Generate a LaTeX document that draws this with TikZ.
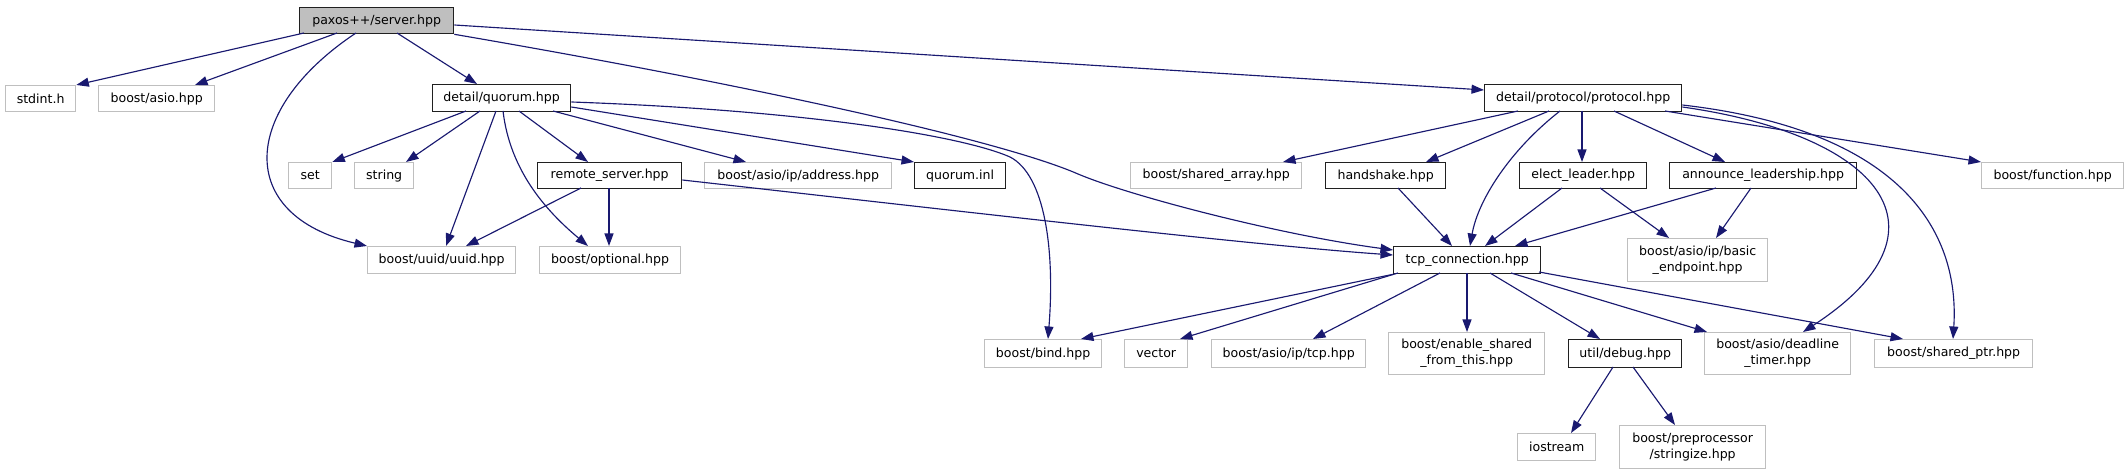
\documentclass[tikz,border=0pt]{standalone}
\usepackage{fontspec}
\newfontfamily\dvs{DejaVu Sans}
\usetikzlibrary{arrows.meta}
\definecolor{edgeblue}{HTML}{191970}
\definecolor{lgray}{HTML}{BFBFBF}
\definecolor{dborder}{HTML}{202020}
\newcommand{\gnode}[7]{\node[#6,minimum width={(#4-#2)*0.02cm},minimum height={(#5-#3)*0.02cm}] (#1) at (#2,#3) {#7};}
\begin{document}
\begin{tikzpicture}[x=0.02cm,y=-0.02cm,
 nbox/.style={draw=dborder, line width=0.75pt, fill=white, inner sep=0pt, anchor=north west, align=center, font=\dvs\fontsize{7.15}{9.1}\selectfont},
 extbox/.style={nbox, draw=lgray},
 curbox/.style={nbox, fill=lgray},
 edge/.style={draw=edgeblue, line width=0.65pt, -{Triangle[length=0.25cm,width=0.18cm]}}]
\useasboundingbox (0,0) rectangle (2128,475);
% rank 0
\gnode{paxos}{299}{7}{453}{33}{curbox}{paxos++/server.hpp}
% rank 1
\gnode{stdint}{5}{85}{75}{111}{extbox}{stdint.h}
\gnode{asio}{98}{85}{214}{111}{extbox}{boost/asio.hpp}
\gnode{quorum}{432}{84}{570}{111}{nbox}{detail/quorum.hpp}
\gnode{proto}{1484}{84}{1681}{111}{nbox}{detail/protocol/protocol.hpp}
% rank 2
\gnode{set}{288}{162}{331}{188}{extbox}{set}
\gnode{str}{354}{162}{413}{188}{extbox}{string}
\gnode{rsrv}{537}{162}{681}{188}{nbox}{remote\_server.hpp}
\gnode{addr}{704}{162}{891}{188}{extbox}{boost/asio/ip/address.hpp}
\gnode{qinl}{914}{162}{1005}{188}{nbox}{quorum.inl}
\gnode{sarr}{1130}{162}{1301}{188}{extbox}{boost/shared\_array.hpp}
\gnode{hshk}{1325}{162}{1445}{188}{nbox}{handshake.hpp}
\gnode{elect}{1519}{162}{1646}{188}{nbox}{elect\_leader.hpp}
\gnode{annc}{1669}{162}{1856}{188}{nbox}{announce\_leadership.hpp}
\gnode{func}{1981}{162}{2123}{188}{extbox}{boost/function.hpp}
% rank 3
\gnode{uuid}{367}{246}{515}{273}{extbox}{boost/uuid/uuid.hpp}
\gnode{opt}{539}{246}{680}{273}{extbox}{boost/optional.hpp}
\gnode{tcpc}{1393}{246}{1540}{273}{nbox}{tcp\_connection.hpp}
\gnode{bend}{1627}{238}{1767}{281}{extbox}{boost/asio/ip/basic\\\_endpoint.hpp}
% rank 4
\gnode{bind}{984}{339}{1101}{367}{extbox}{boost/bind.hpp}
\gnode{vect}{1124}{339}{1187}{367}{extbox}{vector}
\gnode{tcph}{1211}{339}{1365}{367}{extbox}{boost/asio/ip/tcp.hpp}
\gnode{esft}{1388}{332}{1544}{374}{extbox}{boost/enable\_shared\\\_from\_this.hpp}
\gnode{dbg}{1568}{339}{1681}{367}{nbox}{util/debug.hpp}
\gnode{dlt}{1704}{332}{1850}{374}{extbox}{boost/asio/deadline\\\_timer.hpp}
\gnode{sptr}{1874}{339}{2032}{367}{extbox}{boost/shared\_ptr.hpp}
% rank 5
\gnode{ios}{1517}{433}{1595}{460}{extbox}{iostream}
\gnode{strz}{1619}{425}{1765}{468}{extbox}{boost/preprocessor\\/stringize.hpp}
% edges from paxos
\draw[edge] ([shift={(5,26)}]paxos.north west) -- (stdint.north east);
\draw[edge] ([shift={(38,26)}]paxos.north west) -- ([shift={(97,0)}]asio.north west);
\draw[edge] ([shift={(57,26)}]paxos.north west) .. controls (240,110) and (235,215) .. (uuid.north west);
\draw[edge] ([shift={(98,26)}]paxos.north west) -- ([shift={(45,0)}]quorum.north west);
\draw[edge] (paxos.south east) .. controls (750,85) and (1000,140) .. (1078,174) .. controls (1130,196) and (1280,235) .. ([shift={(0,4)}]tcpc.north west);
\draw[edge] ([shift={(0,18)}]paxos.north east) -- ([shift={(0,6)}]proto.north west);
% edges from quorum
\draw[edge] ([shift={(34,27)}]quorum.north west) -- (set.north east);
\draw[edge] ([shift={(48,27)}]quorum.north west) -- ([shift={(52,0)}]str.north west);
\draw[edge] ([shift={(64,27)}]quorum.north west) -- ([shift={(79,0)}]uuid.north west);
\draw[edge] ([shift={(71,27)}]quorum.north west) .. controls (510,170) and (545,210) .. ([shift={(49,0)}]opt.north west);
\draw[edge] ([shift={(87,27)}]quorum.north west) -- ([shift={(51,0)}]rsrv.north west);
\draw[edge] ([shift={(121,27)}]quorum.north west) -- ([shift={(42,0)}]addr.north west);
\draw[edge] ([shift={(0,23)}]quorum.north east) -- (qinl.north west);
\draw[edge] ([shift={(0,18)}]quorum.north east) .. controls (800,110) and (960,135) .. (1010,157) .. controls (1045,175) and (1055,250) .. ([shift={(64,0)}]bind.north west);
% edges from remote_server
\draw[edge] ([shift={(44,26)}]rsrv.north west) -- ([shift={(99,0)}]uuid.north west);
\draw[edge] ([shift={(72,26)}]rsrv.north west) -- ([shift={(70,0)}]opt.north west);
\draw[edge] ([shift={(0,18)}]rsrv.north east) .. controls (950,210) and (1250,245) .. ([shift={(0,9)}]tcpc.north west);
% edges from protocol
\draw[edge] ([shift={(34,27)}]proto.north west) -- ([shift={(153,0)}]sarr.north west);
\draw[edge] ([shift={(65,27)}]proto.north west) -- ([shift={(101,0)}]hshk.north west);
\draw[edge] ([shift={(76,27)}]proto.north west) .. controls (1510,150) and (1478,200) .. ([shift={(77,0)}]tcpc.north west);
\draw[edge] ([shift={(98,27)}]proto.north west) -- ([shift={(63,0)}]elect.north west);
\draw[edge] ([shift={(130,27)}]proto.north west) -- ([shift={(56,0)}]annc.north west);
\draw[edge] ([shift={(181,27)}]proto.north west) -- (func.north west);
\draw[edge] ([shift={(0,23)}]proto.north east) .. controls (1880,135) and (1960,230) .. ([shift={(99,0)}]dlt.north west);
\draw[edge] ([shift={(0,21)}]proto.north east) .. controls (1900,130) and (1960,230) .. ([shift={(79,0)}]sptr.north west);
% edges to tcp_connection / basic_endpoint
\draw[edge] ([shift={(73,26)}]hshk.north west) -- ([shift={(59,0)}]tcpc.north west);
\draw[edge] ([shift={(43,26)}]elect.north west) -- ([shift={(92,0)}]tcpc.north west);
\draw[edge] ([shift={(81,26)}]elect.north west) -- ([shift={(42,0)}]bend.north west);
\draw[edge] ([shift={(47,26)}]annc.north west) -- ([shift={(122,0)}]tcpc.north west);
\draw[edge] ([shift={(82,26)}]annc.north west) -- ([shift={(89,0)}]bend.north west);
% edges from tcp_connection
\draw[edge] (tcpc.south west) -- ([shift={(97,0)}]bind.north west);
\draw[edge] ([shift={(5,27)}]tcpc.north west) -- ([shift={(56,0)}]vect.north west);
\draw[edge] ([shift={(47,27)}]tcpc.north west) -- ([shift={(102,0)}]tcph.north west);
\draw[edge] ([shift={(74,27)}]tcpc.north west) -- ([shift={(79,0)}]esft.north west);
\draw[edge] ([shift={(97,27)}]tcpc.north west) -- ([shift={(32,0)}]dbg.north west);
\draw[edge] ([shift={(118,27)}]tcpc.north west) -- ([shift={(3,0)}]dlt.north west);
\draw[edge] ([shift={(146,26)}]tcpc.north west) -- ([shift={(29,0)}]sptr.north west);
% edges from debug
\draw[edge] ([shift={(45,28)}]dbg.north west) -- ([shift={(54,0)}]ios.north west);
\draw[edge] ([shift={(65,28)}]dbg.north west) -- ([shift={(56,0)}]strz.north west);
\end{tikzpicture}
\end{document}
